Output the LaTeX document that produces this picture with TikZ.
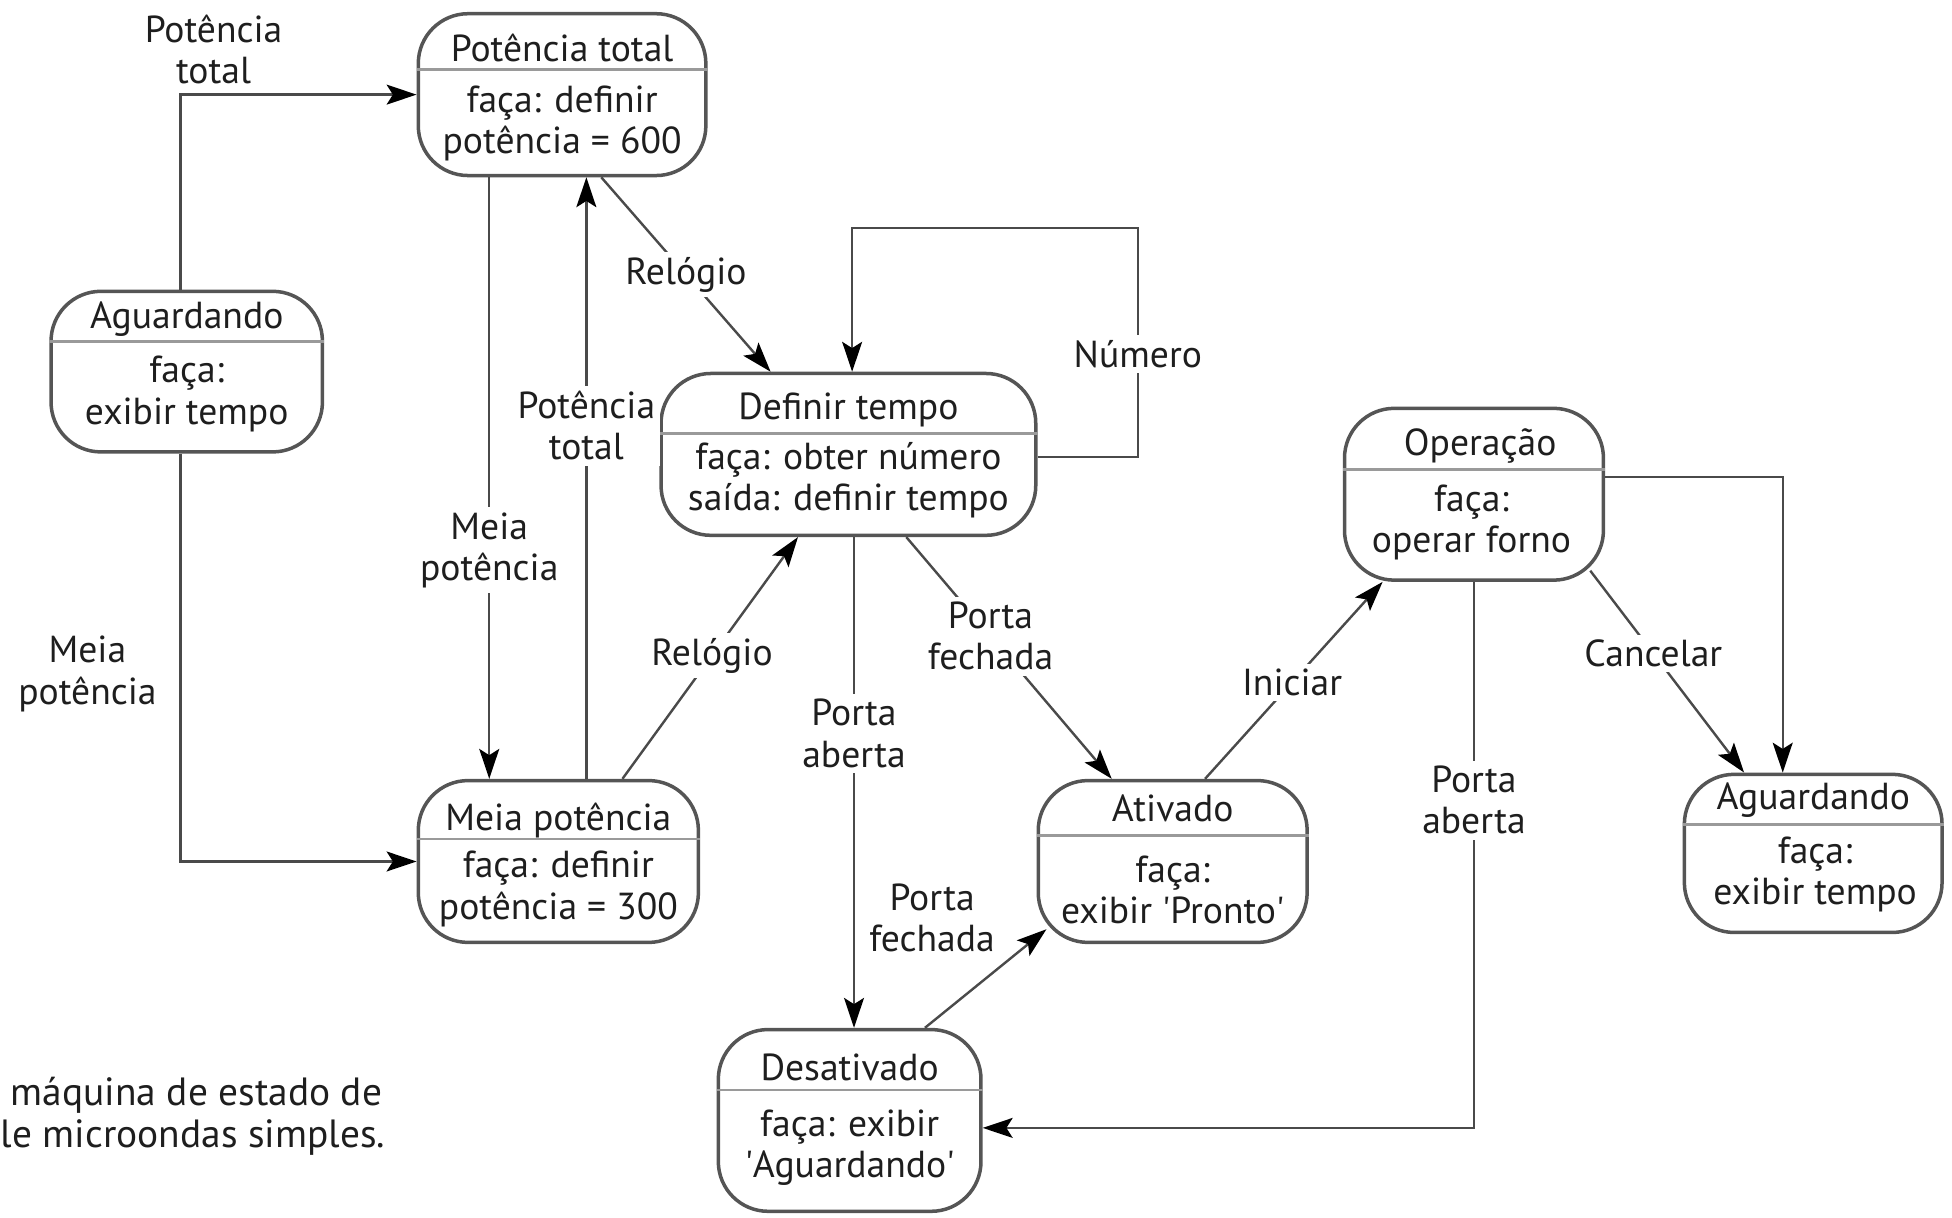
\documentclass[tikz,border=0pt]{standalone}
\usepackage{fontspec}
\setmainfont{PT Sans}
\usetikzlibrary{calc,arrows.meta}
\definecolor{boxgray}{HTML}{555555}
\definecolor{sepgray}{HTML}{9A9A9A}
\definecolor{linegray}{HTML}{4A4A4A}
\definecolor{txtc}{HTML}{1E1E1E}

\begin{document}
\begin{tikzpicture}[x=1cm,y=-1cm,
	state/.style={draw=boxgray, line width=0.8pt, rounded corners=0.4cm, inner sep=0pt},
	sep/.style={draw=sepgray, line width=0.6pt},
	txt/.style={text=txtc, font=\fontsize{8.6}{9.4}\selectfont, inner sep=0pt, align=center},
	lbl/.style={txt, fill=white, inner sep=1.2pt},
	trans/.style={draw=linegray, line width=0.55pt, -{Stealth[length=2.4mm,width=1.6mm,inset=0.5mm,color=black]}}]
		\useasboundingbox (0,0) rectangle (15.68,9.78);
		
		%states
		\node[state, minimum width=2.18cm, minimum height=1.29cm] (aguardA) at (1.50,2.985) {};
		\node[state, minimum width=2.31cm, minimum height=1.30cm] (total) at (4.515,0.76) {};
		\node[state, minimum width=3.01cm, minimum height=1.30cm] (tempo) at (6.815,3.65) {};
		\node[state, minimum width=2.25cm, minimum height=1.30cm] (meia) at (4.485,6.92) {};
		\node[state, minimum width=2.08cm, minimum height=1.38cm] (operacao) at (11.84,3.97) {};
		\node[state, minimum width=2.16cm, minimum height=1.30cm] (ativado) at (9.42,6.92) {};
		\node[state, minimum width=2.11cm, minimum height=1.46cm] (desativado) at (6.825,9.00) {};
		\node[state, minimum width=2.07cm, minimum height=1.27cm] (aguardB) at (14.565,6.855) {};
		
		%header lines
		\draw[sep] (aguardA.west |- 0,2.745) -- (aguardA.east |- 0,2.745);
		\draw[sep] (total.west |- 0,0.56) -- (total.east |- 0,0.56);
		\draw[sep] (tempo.west |- 0,3.48) -- (tempo.east |- 0,3.48);
		\draw[sep] (meia.west |- 0,6.74) -- (meia.east |- 0,6.74);
		\draw[sep] (operacao.west |- 0,3.77) -- (operacao.east |- 0,3.77);
		\draw[sep] (ativado.west |- 0,6.71) -- (ativado.east |- 0,6.71);
		\draw[sep] (desativado.west |- 0,8.755) -- (desativado.east |- 0,8.755);
		\draw[sep] (aguardB.west |- 0,6.625) -- (aguardB.east |- 0,6.625);
		
		%names
		\node[txt] (aguardAname) at (1.50,2.56) {Aguardando};
		\node[txt] (totalname) at (4.515,0.385) {Potência total};
		\node[txt] (temponame) at (6.815,3.29) {Definir tempo};
		\node[txt] (meianame) at (4.485,6.59) {Meia potência};
		\node[txt] (operacaoname) at (11.89,3.58) {Operação};
		\node[txt] (ativadoname) at (9.42,6.49) {Ativado};
		\node[txt] (desativadoname) at (6.825,8.57) {Desativado};
		\node[txt] (aguardBname) at (14.565,6.425) {Aguardando};
		
		%activities
		\node[txt] (aguardAdo) at (1.50,3.165) {faça:\\exibir tempo};
		\node[txt] (totaldo) at (4.515,0.99) {faça: definir\\potência = 600};
		\node[txt] (tempodo) at (6.815,3.86) {faça: obter número\\saída: definir tempo};
		\node[txt] (meiado) at (4.485,7.14) {faça: definir\\potência = 300};
		\node[txt] (operacaodo) at (11.82,4.2) {faça:\\operar forno};
		\node[txt] (ativadodo) at (9.42,7.15) {faça:\\exibir \textquotesingle Pronto\textquotesingle};
		\node[txt] (desativadodo) at (6.825,9.22) {faça: exibir\\\textquotesingle Aguardando\textquotesingle};
		\node[txt] (aguardBdo) at (14.58,7.025) {faça:\\exibir tempo};
		
		%transitions
		\draw[trans] (aguardA.north -| 1.45,0) |- node[lbl, fill=none, anchor=south, pos=0.57, yshift=1pt] {Potência\\total} (total.west);
		\draw[trans] (aguardA.south -| 1.45,0) |- node[lbl, fill=none, anchor=east, pos=0.27, xshift=-4pt] {Meia\\potência} (meia.west);
		\draw[trans] (total.south -| 3.93,0) -- node[lbl, pos=0.62] {Meia\\potência} (meia.north -| 3.93,0);
		\draw[trans] (meia.north -| 4.71,0) -- node[lbl, pos=0.587] {Potência\\total} (total.south -| 4.71,0);
		\draw[trans] (total.south -| 4.83,0) -- node[lbl, pos=0.5] {Relógio} (tempo.north -| 6.19,0);
		\draw[trans] (meia.north -| 5.00,0) -- node[lbl, pos=0.51] {Relógio} (tempo.south -| 6.41,0);
		\draw[trans] (tempo.east |- 0,3.67) -| node[lbl, pos=0.725] {Número} (9.14,1.83) -| ([xshift=0.3mm]tempo.north);
		\draw[trans] (tempo.south -| 6.86,0) -- node[lbl, pos=0.40] {Porta\\aberta} (desativado.north -| 6.86,0);
		\draw[trans] (tempo.south -| 7.28,0) -- node[lbl, pos=0.41] {Porta\\fechada} (ativado.north -| 8.93,0);
		\draw[trans] (desativado.north -| 7.43,0) -- node[lbl, fill=none, anchor=south east, pos=0.7, xshift=-2pt] {Porta\\fechada} ($(ativado.south west)+(0.08,-0.12)$);
		\draw[trans] (ativado.north -| 9.68,0) -- node[lbl, pos=0.49] {Iniciar} ($(operacao.south west)+(0.32,0)$);
		\draw[trans] (operacao.south) |- node[lbl, pos=0.2] {Porta\\aberta} (desativado.east |- 0,9.06);
		\draw[trans] ($(operacao.south east)+(-0.12,-0.09)$) -- node[lbl, pos=0.41] {Cancelar} (aguardB.north -| 14.01,0);
		\draw[trans] (operacao.east |- 0,3.83) -| (aguardB.north -| 14.32,0);
		
		%caption
		\node[txt, anchor=west, font=\fontsize{9.0}{9.4}\selectfont] (legendaA) at (0.08,8.80) {máquina de estado de};
		\node[txt, anchor=west, font=\fontsize{9.0}{9.4}\selectfont] (legendaB) at (0.0,9.14) {le microondas simples.};
	
\end{tikzpicture}
\end{document}
